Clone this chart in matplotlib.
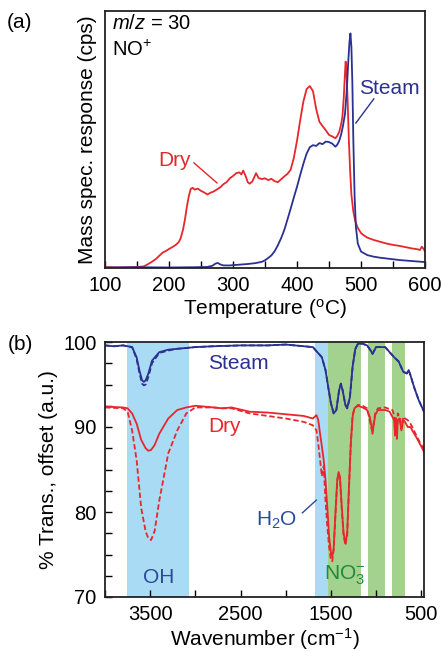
import matplotlib
matplotlib.use("Agg")
import matplotlib.pyplot as plt
from matplotlib.ticker import MultipleLocator

plt.rcParams['font.family'] = ['Liberation Sans', 'DejaVu Sans']
plt.rcParams['mathtext.fontset'] = 'custom'
plt.rcParams['mathtext.rm'] = 'Liberation Sans'
plt.rcParams['mathtext.it'] = 'Liberation Sans:italic'

RED = '#e8262b'
BLUE = '#2b3192'
GREEN_TXT = '#1e8a3a'
BAND_BLUE = '#a9dcf4'
BAND_GREEN = '#a3d18e'

# ---- (a) TPD, m/z = 30 ----
dry_T = [100, 120, 140, 150, 160, 165, 170, 175, 180, 185, 190, 195, 200, 205, 210, 215, 218,
         222, 225, 228, 231, 234, 237, 240, 245, 250, 255, 260, 265, 270, 275, 280, 285,
         290, 295, 300, 305, 310, 313, 316, 320, 323, 326, 330, 333, 336, 340, 345, 350,
         355, 360, 365, 370, 375, 380, 385, 390, 395, 400, 405, 410, 415, 420, 425, 430,
         435, 440, 445, 450, 455, 460, 463, 466, 469, 471, 473, 475, 476, 477, 479, 481,
         483, 485, 488, 491, 495, 500, 505, 510, 520, 530, 540, 550, 560, 570, 580, 588,
         592, 595, 598, 600]
dry_v = [0.3, 0.2, 0.3, 0.4, 0.6, 1.2, 1.9, 2.7, 3.6, 4.8, 6.0, 6.6, 7.4, 8.1, 8.9, 10.0, 11.4,
         15.0, 19.0, 24.0, 28.0, 30.8, 31.2, 30.5, 30.9, 30.0, 29.4, 28.6, 29.3, 29.8, 30.6, 31.4, 32.6,
         33.4, 34.9, 35.8, 36.9, 37.2, 36.4, 37.9, 35.6, 33.4, 32.8, 33.6, 35.2, 36.9, 35.0, 34.6, 34.9,
         34.2, 34.7, 33.8, 33.4, 34.5, 35.6, 36.6, 38.2, 42.8, 49.5, 57.5, 64.8, 69.6, 70.8, 68.8, 61.8,
         56.9, 55.2, 53.6, 51.8, 51.2, 50.5, 51.4, 53.0, 56.0, 59.0, 66.0, 76.0, 80.3, 78.0, 66.0, 50.0,
         38.0, 28.5, 22.0, 18.2, 15.6, 13.6, 12.6, 11.8, 10.9, 10.2, 9.5, 9.0, 8.6, 8.1, 7.6, 7.3,
         7.0, 8.3, 7.4, 6.4]

steam_T = [100, 150, 200, 240, 260, 268, 272, 276, 280, 285, 295, 305, 315, 325, 335, 345, 350,
           355, 360, 365, 370, 375, 380, 385, 390, 395, 400, 405, 410, 415, 420, 425, 430,
           435, 440, 445, 450, 455, 460, 463, 466, 469, 472, 475, 478, 480, 482, 483.5, 485,
           486.5, 488, 490, 492, 495, 500, 510, 520, 530, 540, 550, 560, 570, 580, 590, 600]
steam_v = [0.2, 0.3, 0.2, 0.3, 0.4, 0.9, 1.6, 2.0, 1.4, 1.0, 1.0, 1.2, 1.4, 1.6, 1.9, 2.4, 3.0,
           3.9, 4.9, 6.5, 8.8, 11.5, 14.7, 18.8, 23.0, 27.4, 31.6, 36.2, 40.6, 44.5, 47.0, 47.8, 47.5,
           48.6, 48.2, 49.2, 49.0, 48.4, 47.2, 48.0, 49.5, 52.0, 55.5, 60.0, 70.0, 80.0, 88.0, 91.3, 86.0,
           72.0, 50.0, 28.0, 16.0, 9.5, 6.4, 5.0, 4.4, 4.0, 3.7, 3.4, 3.1, 2.9, 2.7, 2.5, 2.3]

# ---- (b) FTIR ----
st_wn = [4000, 3900, 3800, 3700, 3650, 3620, 3590, 3570, 3550, 3520, 3480, 3400, 3300, 3200,
         3000, 2800, 2500, 2200, 2000, 1800, 1700, 1650, 1600, 1560, 1530, 1500, 1470, 1440,
         1410, 1390, 1370, 1340, 1320, 1290, 1260, 1230, 1200, 1150, 1100, 1060, 1040, 1020,
         1000, 900, 850, 800, 750, 700, 660, 640, 620, 580, 530, 470]
st_solid = [99.6, 99.5, 99.6, 99.4, 98.2, 96.7, 95.5, 95.3, 95.5, 96.3, 97.8, 98.8, 99.1, 99.2,
            99.4, 99.5, 99.6, 99.6, 99.7, 99.5, 99.4, 98.8, 98.2, 96.7, 94.7, 92.8, 91.6, 92.0,
            94.3, 95.1, 94.3, 92.6, 92.2, 93.5, 97.1, 99.2, 99.8, 99.8, 99.6, 99.0, 98.6, 99.0,
            99.4, 99.4, 98.8, 98.2, 97.7, 96.5, 96.3, 96.7, 96.1, 94.7, 93.2, 91.8]
st_dash = [99.6, 99.5, 99.6, 99.4, 98.0, 96.4, 95.1, 94.9, 95.0, 95.9, 97.5, 98.7, 99.0, 99.2,
           99.4, 99.5, 99.6, 99.6, 99.7, 99.5, 99.4, 98.8, 98.2, 96.7, 94.7, 92.8, 91.6, 92.0,
           94.3, 95.1, 94.3, 92.6, 92.2, 93.5, 97.1, 99.2, 99.8, 99.8, 99.6, 99.0, 98.6, 99.0,
           99.4, 99.4, 98.8, 98.2, 97.7, 96.5, 96.3, 96.7, 96.1, 94.7, 93.2, 91.8]

dry_wn = [4000, 3800, 3750, 3700, 3650, 3600, 3550, 3520, 3490, 3450, 3400, 3300, 3200, 3100,
          3000, 2800, 2700, 2600, 2400, 2200, 2000, 1800, 1700, 1660, 1640, 1620, 1600, 1580,
          1560, 1540, 1520, 1500, 1485, 1470, 1450, 1430, 1415, 1400, 1380, 1360, 1340, 1320,
          1300, 1280, 1260, 1240, 1200, 1150, 1100, 1070, 1050, 1040, 1030, 1010, 980, 900,
          850, 820, 800, 790, 780, 770, 760, 740, 720, 700, 680, 650, 620, 600, 550, 500, 470]
dry_solid = [92.4, 92.3, 92.2, 91.6, 90.4, 88.5, 87.5, 87.2, 87.3, 87.9, 89.2, 91.0, 92.0, 92.3,
             92.5, 92.3, 92.2, 92.3, 91.8, 91.7, 91.5, 91.3, 91.0, 91.4, 90.8, 89.2, 87.7, 86.1,
             83.8, 80.6, 77.1, 75.2, 74.8, 75.6, 79.9, 83.8, 84.7, 84.1, 80.6, 77.5, 76.3, 77.5,
             83.0, 88.1, 91.2, 92.2, 92.5, 92.3, 92.0, 91.2, 90.0, 89.2, 90.0, 91.4, 92.0, 92.0,
             91.8, 91.2, 90.8, 89.0, 91.0, 88.6, 90.8, 91.0, 89.6, 90.8, 90.6, 90.0, 90.0, 89.6,
             88.7, 87.7, 87.1]
dry_dash = [92.3, 92.2, 91.8, 89.6, 86.1, 80.5, 77.7, 76.9, 76.7, 77.8, 81.3, 86.9, 89.6, 91.6,
            92.3, 92.3, 92.2, 92.2, 91.6, 91.3, 91.0, 90.6, 90.2, 89.6, 88.0, 86.1, 84.2, 85.4,
            81.4, 78.3, 75.9, 74.4, 74.2, 75.6, 79.6, 83.6, 84.6, 84.0, 80.4, 77.3, 76.1, 77.3,
            82.8, 88.0, 91.4, 92.2, 92.6, 92.5, 92.2, 90.8, 89.8, 89.6, 90.2, 91.6, 92.2, 92.3,
            92.1, 92.0, 91.4, 89.4, 91.2, 89.2, 91.6, 91.2, 89.8, 91.2, 91.0, 90.8, 90.4, 90.0,
            88.9, 87.9, 87.4]

oh_band = (3760, 3070)
h2o_band = (1680, 1535)
no3_bands = [(1535, 1165), (1090, 907), (825, 685)]

W, H = 442, 651
fig = plt.figure(figsize=(W / 100, H / 100), dpi=100)

FS = 15
TFS = 14.5

ax1 = fig.add_axes([105 / W, 1 - 268 / H, 320 / W, 257 / H])
ax1.plot(dry_T, dry_v, color=RED, lw=1.3)
ax1.plot(steam_T, steam_v, color=BLUE, lw=1.3)
ax1.set_xlim(100, 600)
ax1.set_ylim(0, 100)
ax1.xaxis.set_major_locator(MultipleLocator(100))
ax1.xaxis.set_minor_locator(MultipleLocator(50))
ax1.set_yticks([])
ax1.tick_params(axis='x', which='both', direction='in', length=5, width=1.0,
                labelsize=TFS, pad=6)
ax1.set_xlabel('Temperature ($^{\\rm o}$C)', fontsize=FS, labelpad=1)
ax1.set_ylabel('Mass spec. response (cps)', fontsize=FS, labelpad=6)
ax1.text(0.022, 0.953, '$m/z$ = 30', transform=ax1.transAxes, fontsize=TFS,
         ha='left', va='center')
ax1.text(0.022, 0.848, 'NO$^{+}$', transform=ax1.transAxes, fontsize=TFS,
         ha='left', va='center')
ax1.text(544, 70, 'Steam', color=BLUE, fontsize=FS, ha='center', va='center')
ax1.plot([520, 492], [65.8, 56.4], color=BLUE, lw=1.0)
ax1.text(208, 42, 'Dry', color=RED, fontsize=FS, ha='center', va='center')
ax1.plot([239, 275], [40.9, 33.1], color=RED, lw=1.0)

ax2 = fig.add_axes([105 / W, 1 - 597 / H, 319 / W, 255 / H])
ax2.axvspan(*oh_band, color=BAND_BLUE, lw=0, zorder=0)
ax2.axvspan(*h2o_band, color=BAND_BLUE, lw=0, zorder=0)
for b in no3_bands:
    ax2.axvspan(*b, color=BAND_GREEN, lw=0, zorder=0)
ax2.plot(st_wn, st_dash, color=BLUE, lw=1.3, ls=(0, (3, 1.5)))
ax2.plot(st_wn, st_solid, color=BLUE, lw=1.3)
ax2.plot(dry_wn, dry_dash, color=RED, lw=1.3, ls=(0, (3, 1.5)))
ax2.plot(dry_wn, dry_solid, color=RED, lw=1.3)
ax2.set_xlim(4000, 470)
ax2.set_ylim(70, 100)
ax2.set_xticks([3500, 2500, 1500, 500])
ax2.xaxis.set_minor_locator(MultipleLocator(500))
ax2.set_yticks([70, 80, 90, 100])
ax2.yaxis.set_minor_locator(MultipleLocator(2.5))
ax2.tick_params(axis='both', which='both', direction='in', length=5, width=1.0,
                labelsize=TFS, pad=6)
ax2.set_xlabel('Wavenumber (cm$^{-1}$)', fontsize=FS, labelpad=1)
ax2.set_ylabel('% Trans., offset (a.u.)', fontsize=FS, labelpad=4)
ax2.text(2526, 97.5, 'Steam', color=BLUE, fontsize=FS, ha='center', va='center')
ax2.text(2681, 90.0, 'Dry', color=RED, fontsize=FS, ha='center', va='center')
ax2.text(3401, 72.3, 'OH', color='#2a4b9b', fontsize=FS, ha='center', va='center')
ax2.text(2104, 79.0, 'H$_2$O', color='#2a4b9b', fontsize=FS, ha='center', va='center')
ax2.plot([1816, 1661], [79.9, 81.4], color='#2a4b9b', lw=1.0)
ax2.text(1350, 72.6, 'NO$_3^{-}$', color=GREEN_TXT, fontsize=FS, ha='center', va='center')

for ax in (ax1, ax2):
    for s in ax.spines.values():
        s.set_linewidth(1.3)
        s.set_color('#222222')

fig.text(20 / W, 1 - 22 / H, '(a)', fontsize=FS, ha='center', va='center')
fig.text(20 / W, 1 - 345 / H, '(b)', fontsize=FS, ha='center', va='center')

fig.savefig('out.png', dpi=100)
